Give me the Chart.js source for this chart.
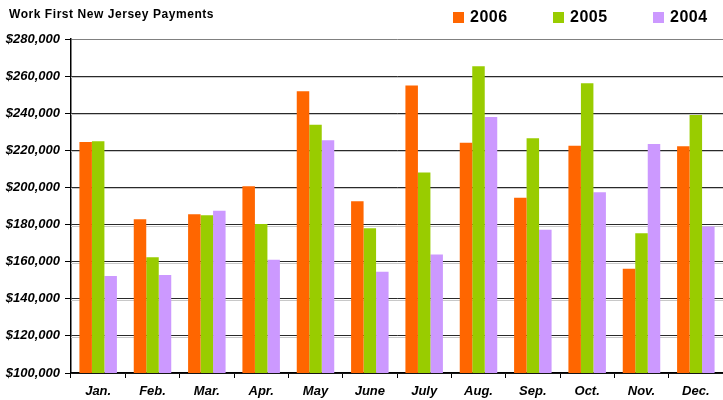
<!DOCTYPE html>
<html>
<head>
<meta charset="utf-8">
<script src="https://cdn.jsdelivr.net/npm/chart.js@4/dist/chart.umd.min.js"></script>
<style>
  html, body { margin: 0; padding: 0; background: #fff; }
  #wrap { position: relative; width: 723px; height: 400px; font-family: "Liberation Sans", Arial, sans-serif; }
  #title { position: absolute; left: 9px; top: 7px; font-size: 12px; letter-spacing: 0.55px; font-weight: bold; color: #000; }
  #legend { position: absolute; left: 0; top: 5px; }
  .item { position: absolute; top: 0; white-space: nowrap; font-size: 16px; letter-spacing: 0.5px; font-weight: bold; color: #000; }
  .item span.box { position: absolute; left: 0; top: 7px; width: 11px; height: 11px; }
  .item span.txt { position: absolute; left: 17px; top: 3px; }
</style>
</head>
<body>
<div id="wrap">
  <canvas id="chart" width="723" height="400"></canvas>
  <div id="title">Work First New Jersey Payments</div>
  <div id="legend"></div>
</div>
<script>
const months = ["Jan.", "Feb.", "Mar.", "Apr.", "May", "June", "July", "Aug.", "Sep.", "Oct.", "Nov.", "Dec."];
const years = ["2006", "2005", "2004"];
const pay2006 = [224500, 182800, 185500, 200600, 251800, 192500, 254900, 224100, 194500, 222500, 156200, 222200];
const pay2005 = [224900, 162400, 185000, 180300, 233800, 178000, 208000, 265300, 226500, 256100, 175300, 239100];
const pay2004 = [152300, 152800, 187500, 161100, 225400, 154600, 163800, 238000, 177200, 197400, 223400, 178900];
const yTicks = [100000, 120000, 140000, 160000, 180000, 200000, 220000, 240000, 260000, 280000];
const colors = ["#FF6600", "#99CC00", "#CC99FF"];

// light gray line under each grid line, like the old 3D look
const gridShadow = {
  id: 'gridShadow',
  beforeDatasetsDraw(chart) {
    const ctx = chart.ctx;
    const y = chart.scales.y;
    const area = chart.chartArea;
    ctx.save();
    ctx.strokeStyle = '#c8c8c8';
    ctx.lineWidth = 1;
    yTicks.forEach(v => {
      if (v === yTicks[0] || v === yTicks[yTicks.length - 1]) return;
      const py = Math.round(y.getPixelForValue(v)) + 1.5;
      ctx.beginPath();
      ctx.moveTo(area.left, py);
      ctx.lineTo(area.right, py);
      ctx.stroke();
    });
    ctx.restore();
  }
};

const series = [pay2006, pay2005, pay2004];
const chart = new Chart(document.getElementById("chart"), {
  type: "bar",
  data: {
    labels: months,
    datasets: years.map((yr, i) => ({
      label: yr,
      data: series[i],
      backgroundColor: colors[i],
      borderWidth: 0,
      categoryPercentage: 0.69,
      barPercentage: 1.0
    }))
  },
  options: {
    responsive: false,
    animation: false,
    layout: { padding: { top: 39, right: 0, bottom: 0, left: 0 } },
    plugins: {
      legend: { display: false },
      title: { display: false },
      tooltip: { enabled: false }
    },
    scales: {
      x: {
        afterFit(scale) { scale.height = 27; },
        grid: { drawOnChartArea: false, drawTicks: true, tickLength: 5, color: '#000', offset: true },
        border: { color: '#000', width: 1.5 },
        ticks: {
          color: '#000',
          padding: 6,
          font: { family: "Liberation Sans", size: 13, weight: 'bold', style: 'italic' }
        }
      },
      y: {
        min: 100000,
        max: 280000,
        afterFit(scale) { scale.width = 71; },
        afterBuildTicks(scale) { scale.ticks = yTicks.map(v => ({ value: v })); },
        grid: {
          color: ctx => ctx.tick && ctx.tick.value === 280000 ? '#808080' : '#2a2a2a',
          tickLength: 6,
          tickColor: '#000'
        },
        border: { color: '#000', width: 1.5 },
        ticks: {
          color: '#000',
          padding: 5,
          font: { family: "Liberation Sans", size: 13, weight: 'bold', style: 'italic' },
          callback: v => '$' + v.toLocaleString('en-US')
        }
      }
    }
  },
  plugins: [gridShadow]
});

// legend built from the datasets
const legend = document.getElementById("legend");
chart.data.datasets.forEach((ds, i) => {
  const item = document.createElement("div");
  item.className = "item";
  item.style.left = (453 + i * 100) + "px";
  item.innerHTML = '<span class="box" style="background:' + ds.backgroundColor + '"></span><span class="txt">' + ds.label + '</span>';
  legend.appendChild(item);
});
</script>
</body>
</html>
